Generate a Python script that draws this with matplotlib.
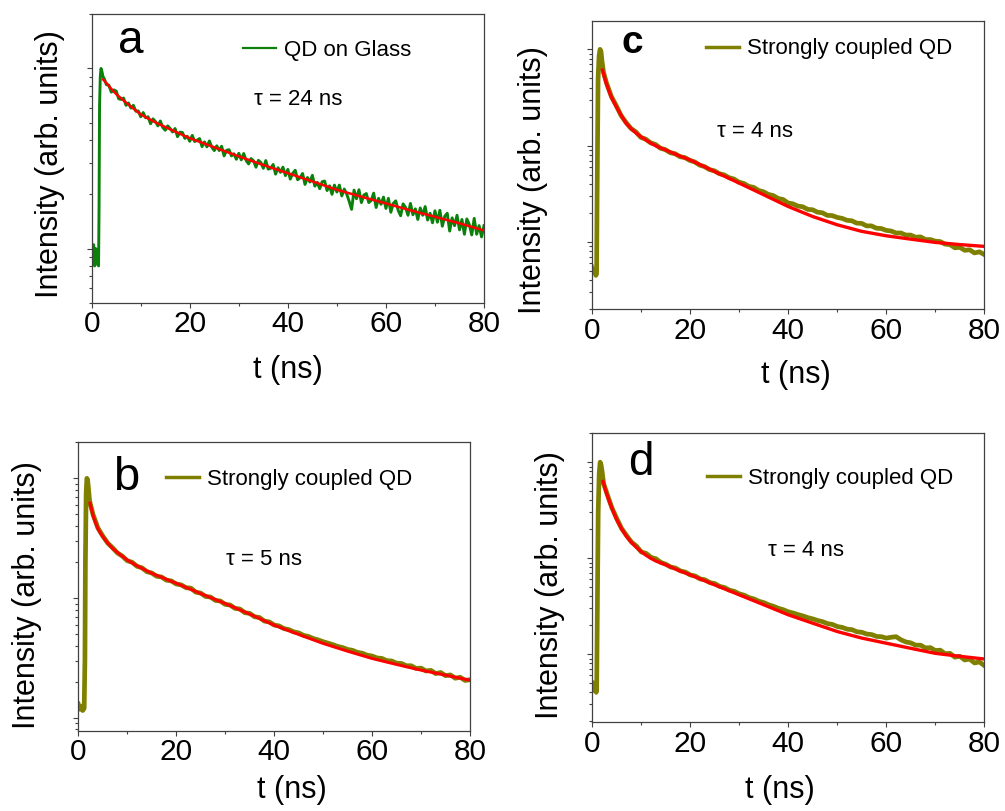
import numpy as np
import matplotlib
matplotlib.use("Agg")
import matplotlib.pyplot as plt
from matplotlib.ticker import LogLocator, NullFormatter, MultipleLocator

plt.rcParams["font.family"] = ["Liberation Sans", "DejaVu Sans"]

# ---------------- data (normalised PL decay, peak = 1) ----------------
# Panel a: QD on glass
a_rise_t = [0, 0.2, 0.4, 0.6, 0.8, 1.0, 1.2, 1.4, 1.5, 1.6, 1.75, 1.9, 2.1, 2.3]
a_rise_I = [0.10, 0.085, 0.105, 0.08, 0.10, 0.082, 0.098, 0.08, 0.17, 0.62, 0.9, 1.0, 0.96, 0.9]
a_decay_t = np.arange(2.5, 80.01, 0.5)
a_decay_I = [
    0.886, 0.813, 0.808, 0.739, 0.760, 0.749, 0.679, 0.673, 0.685, 0.624, 0.643, 0.603, 0.624, 0.579, 0.581,
    0.539, 0.569, 0.532, 0.539, 0.493, 0.525, 0.507, 0.480, 0.511, 0.470, 0.454, 0.480, 0.464, 0.444, 0.464,
    0.418, 0.443, 0.441, 0.409, 0.420,
    0.394, 0.425, 0.393, 0.400, 0.408, 0.368, 0.391, 0.367, 0.396, 0.365, 0.350, 0.372, 0.350, 0.370, 0.327,
    0.351, 0.354, 0.327, 0.336, 0.313,
    0.338, 0.311, 0.337, 0.308, 0.295, 0.316, 0.307, 0.283, 0.309, 0.300, 0.279, 0.308, 0.276, 0.279, 0.293,
    0.259, 0.281, 0.265, 0.283, 0.254,
    0.275, 0.243, 0.262, 0.272, 0.241, 0.247, 0.261, 0.227, 0.248, 0.234, 0.255, 0.222, 0.233, 0.215, 0.235,
    0.237, 0.210, 0.223, 0.200, 0.225,
    0.206, 0.225, 0.196, 0.214, 0.201, 0.183, 0.165, 0.211, 0.189, 0.212, 0.180, 0.198, 0.202, 0.180, 0.185,
    0.203, 0.169, 0.190, 0.176, 0.193,
    0.167, 0.190, 0.159, 0.178, 0.184, 0.163, 0.152, 0.177, 0.169, 0.153, 0.178, 0.154, 0.166, 0.145, 0.168,
    0.153, 0.171, 0.144, 0.157, 0.139,
    0.162, 0.140, 0.163, 0.133, 0.151, 0.157, 0.125, 0.148, 0.134, 0.153, 0.127, 0.145, 0.120, 0.146, 0.136,
    0.119, 0.147, 0.120, 0.134, 0.116,
    0.134,
]
a_fit_t = [2.3, 3, 4, 5, 7.5, 10, 12.5, 15, 17.5, 20, 25, 30, 35, 40, 45, 50, 55, 60, 65, 70, 75, 80]
a_fit_I = [0.87, 0.83, 0.77, 0.72, 0.63, 0.556, 0.51, 0.473, 0.44, 0.41, 0.365, 0.325, 0.291,
           0.262, 0.236, 0.212, 0.194, 0.178, 0.163, 0.150, 0.138, 0.126]

# Panel b: strongly coupled QD
b_rise_t = [0, 0.3, 0.6, 0.9, 1.2, 1.35, 1.45, 1.6, 1.75, 1.9, 2.1, 2.3]
b_rise_I = [0.013, 0.0118, 0.0125, 0.0115, 0.012, 0.03, 0.2, 0.75, 1.0, 0.97, 0.8, 0.65]
b_decay_t = np.arange(3, 80.01, 1.0)
b_decay_I = [
    0.50, 0.385, 0.33, 0.288, 0.263, 0.238, 0.224,
    0.205, 0.199, 0.184, 0.179, 0.166, 0.162, 0.152, 0.150, 0.141, 0.139,
    0.131, 0.129, 0.122, 0.121, 0.112, 0.110, 0.103, 0.102, 0.0955, 0.0945,
    0.0885, 0.0875, 0.082, 0.081, 0.0755, 0.0745, 0.0698, 0.0688, 0.0642, 0.0632,
    0.0595, 0.0585, 0.0556, 0.0545, 0.0522, 0.0512, 0.0488, 0.0478, 0.0459, 0.0447,
    0.0432, 0.042, 0.0408, 0.0394, 0.0386, 0.0372, 0.0366, 0.0352, 0.0346, 0.0333,
    0.0328, 0.0316, 0.0313, 0.0300, 0.0298, 0.0286, 0.0284, 0.0272, 0.0272, 0.0258,
    0.0260, 0.0246, 0.0249, 0.0234, 0.0239, 0.0225, 0.0228, 0.0214, 0.0218, 0.0205,
    0.0208,
]
b_fit_t = [2.4, 3, 3.5, 4, 4.5, 5, 6, 7, 8, 10, 12, 15, 20, 25, 30, 35, 40, 45, 50, 55, 60, 65, 70, 75, 80]
b_fit_I = [0.62, 0.49, 0.427, 0.38, 0.35, 0.326, 0.288, 0.26, 0.24, 0.208, 0.186, 0.161, 0.133, 0.109,
           0.090, 0.0735, 0.0594, 0.0497, 0.0418, 0.036, 0.0313, 0.0279, 0.025, 0.0227, 0.0206]

# Panel c: strongly coupled QD
c_rise_t = [0, 0.3, 0.6, 0.85, 1.0, 1.1, 1.3, 1.5, 1.7, 1.9, 2.1, 2.4]
c_rise_I = [0.0055, 0.0048, 0.0052, 0.0045, 0.0047, 0.03, 0.5, 0.85, 1.0, 0.95, 0.75, 0.58]
c_decay_t = np.arange(3, 80.01, 1.0)
c_decay_I = [
    0.45, 0.325, 0.26, 0.205, 0.174, 0.151, 0.139,
    0.122, 0.117, 0.107, 0.103, 0.094, 0.091, 0.0845, 0.0825, 0.0768, 0.0752,
    0.0702, 0.0678, 0.0628, 0.0606, 0.0565, 0.0548, 0.0512, 0.0497, 0.0465, 0.0450,
    0.0418, 0.0405, 0.0378, 0.0369, 0.0343, 0.0332, 0.0312, 0.0303, 0.0283, 0.0276,
    0.0254, 0.0249, 0.0236, 0.0232, 0.0218, 0.0216, 0.0204, 0.0201, 0.0189, 0.0188,
    0.0180, 0.0176, 0.0168, 0.0166, 0.0157, 0.0156, 0.0147, 0.0147, 0.0139, 0.0138,
    0.0132, 0.0130, 0.0124, 0.0124, 0.0118, 0.0118, 0.0112, 0.0113, 0.0106, 0.0106,
    0.0102, 0.0101, 0.0095, 0.0094, 0.0087, 0.0088, 0.0082, 0.0083, 0.0077, 0.0079,
    0.0074,
]
c_fit_t = [2.2, 2.6, 3, 3.5, 4, 4.5, 5, 6, 7, 8, 9, 10, 11, 12, 13, 14, 15, 17.5, 20, 25, 30, 35,
           40, 45, 50, 55, 60, 65, 70, 75, 80]
c_fit_I = [0.61, 0.513, 0.44, 0.372, 0.32, 0.284, 0.255, 0.2065, 0.171, 0.151, 0.136, 0.124, 0.115,
           0.1067, 0.100, 0.095, 0.0905, 0.0798, 0.0713, 0.054, 0.041, 0.031, 0.0234, 0.0184, 0.0151,
           0.0129, 0.0116, 0.0107, 0.0099, 0.0094, 0.0090]

# Panel d: strongly coupled QD
d_rise_t = [0, 0.3, 0.6, 0.8, 0.9, 1.0, 1.2, 1.4, 1.6, 1.8, 2.0, 2.3]
d_rise_I = [0.0050, 0.0042, 0.0047, 0.0040, 0.0045, 0.02, 0.3, 0.75, 1.0, 0.93, 0.8, 0.6]
d_decay_t = np.arange(3, 80.01, 1.0)
d_decay_I = [
    0.47, 0.335, 0.258, 0.203, 0.172, 0.147, 0.134,
    0.116, 0.112, 0.102, 0.0985, 0.0902, 0.0865, 0.0808, 0.0788, 0.0736, 0.0716,
    0.0668, 0.0652, 0.0608, 0.0595, 0.0556, 0.0543, 0.0508, 0.0494, 0.0464, 0.0451,
    0.0425, 0.0411, 0.0388, 0.0376, 0.0356, 0.0344, 0.0327, 0.0315, 0.0300, 0.0290,
    0.0276, 0.0268, 0.0258, 0.0250, 0.0240, 0.0233, 0.0224, 0.0218, 0.0208, 0.0204,
    0.0194, 0.0190, 0.0182, 0.0180, 0.0171, 0.0169, 0.0162, 0.0160, 0.0153, 0.0152,
    0.0147, 0.0150, 0.0152, 0.0141, 0.0134, 0.0131, 0.0124, 0.0124, 0.0116, 0.0117,
    0.0109, 0.0110, 0.0101, 0.0102, 0.0093, 0.0095, 0.0087, 0.0089, 0.0081, 0.0083,
    0.0076,
]
d_fit_t = [2.2, 2.6, 3, 3.5, 4, 4.5, 5, 6, 7, 8, 9, 10, 11, 12, 13, 15, 17.5, 20, 25, 30, 35, 40,
           45, 50, 55, 60, 65, 70, 75, 80]
d_fit_I = [0.63, 0.533, 0.457, 0.386, 0.332, 0.2865, 0.251, 0.2014, 0.168, 0.146, 0.1294, 0.117,
           0.107, 0.0993, 0.0933, 0.0853, 0.075, 0.067, 0.0527, 0.0415, 0.0327, 0.0257, 0.021,
           0.0172, 0.0147, 0.013, 0.0115, 0.0102, 0.0095, 0.0089]

panel_letters = ["a", "b", "c", "d"]
series_labels = ["QD on Glass", "Strongly coupled QD", "Strongly coupled QD", "Strongly coupled QD"]
lifetimes_ns = [24, 5, 4, 4]
x_ticks = [0, 20, 40, 60, 80]

# ---------------- layout ----------------
W, H = 1005, 811
fig = plt.figure(figsize=(W / 100, H / 100), dpi=100)

GREEN = "#0b800b"
OLIVE = "#808000"
RED = "#ff0000"
SPINE = "#404040"


def make_axes(left, right, top, bottom):
    return fig.add_axes([left / W, 1 - bottom / H, (right - left) / W, (bottom - top) / H])


panels = [
    dict(box=(91.7, 484.0, 14.3, 302.7), ylim=(0.05, 2.0), color=GREEN, lw=2.1, fit_lw=1.8, leg_lw=1.6,
         rise=(a_rise_t, a_rise_I), decay=(a_decay_t, a_decay_I), fit=(a_fit_t, a_fit_I),
         leg=(0.385, 0.876), tau=(0.527, 0.703), letter=(0.066, 0.866, 33, "normal"),
         ylab=(-0.106, 0.48), xlab=(0.5, -0.233)),
    dict(box=(78.3, 470.0, 442.3, 730.7), ylim=(0.0078, 2.0), color=OLIVE, lw=3.4, fit_lw=2.2, leg_lw=2.5,
         rise=(b_rise_t, b_rise_I), decay=(b_decay_t, b_decay_I), fit=(b_fit_t, b_fit_I),
         leg=(0.223, 0.871), tau=(0.475, 0.595), letter=(0.0886, 0.835, 34, "normal"),
         ylab=(-0.131, 0.47), xlab=(0.546, -0.206)),
    dict(box=(591.7, 984.3, 21.0, 309.3), ylim=(0.002, 1.97), color=OLIVE, lw=3.4, fit_lw=2.4, leg_lw=2.5,
         rise=(c_rise_t, c_rise_I), decay=(c_decay_t, c_decay_I), fit=(c_fit_t, c_fit_I),
         leg=(0.291, 0.903), tau=(0.416, 0.618), letter=(0.0764, 0.888, 28, "bold"),
         ylab=(-0.1495, 0.45), xlab=(0.52, -0.228)),
    dict(box=(592.3, 984.3, 433.3, 722.3), ylim=(0.00195, 2.0), color=OLIVE, lw=3.4, fit_lw=2.4, leg_lw=2.5,
         rise=(d_rise_t, d_rise_I), decay=(d_decay_t, d_decay_I), fit=(d_fit_t, d_fit_I),
         leg=(0.293, 0.844), tau=(0.545, 0.596), letter=(0.091, 0.856, 33, "normal"),
         ylab=(-0.108, 0.475), xlab=(0.479, -0.234)),
]

for p, letter, label, tau in zip(panels, panel_letters, series_labels, lifetimes_ns):
    ax = make_axes(*p["box"])
    t = np.concatenate([p["rise"][0], p["decay"][0]])
    y = np.concatenate([p["rise"][1], p["decay"][1]])
    ax.plot(t, y, color=p["color"], lw=p["lw"], label=label, zorder=2)
    ax.plot(p["fit"][0], p["fit"][1], color=RED, lw=p["fit_lw"], zorder=3)

    ax.set_yscale("log")
    ax.set_xlim(0, 80)
    ax.set_ylim(*p["ylim"])
    ax.set_xticks(x_ticks)
    ax.xaxis.set_minor_locator(MultipleLocator(10))
    ax.yaxis.set_major_locator(LogLocator(base=10, numticks=10))
    ax.yaxis.set_minor_locator(LogLocator(base=10, subs=np.arange(2, 10), numticks=20))
    ax.yaxis.set_major_formatter(NullFormatter())
    ax.yaxis.set_minor_formatter(NullFormatter())

    ax.tick_params(axis="both", which="major", direction="out", length=3.5, width=0.8,
                   color=SPINE, labelsize=21.5, pad=2)
    ax.tick_params(axis="both", which="minor", direction="out", length=2.2, width=0.8, color=SPINE)
    ax.tick_params(top=False, right=False, which="both")
    for s in ax.spines.values():
        s.set_color(SPINE)
        s.set_linewidth(0.9)

    ax.set_xlabel("t (ns)", fontsize=22)
    ax.xaxis.label.set_va("center")
    ax.xaxis.set_label_coords(*p["xlab"])
    ax.set_ylabel("Intensity (arb. units)", fontsize=22)
    ax.yaxis.label.set(va="center", rotation_mode="anchor")
    ax.yaxis.set_label_coords(*p["ylab"])

    leg = ax.legend(loc="center left", bbox_to_anchor=p["leg"], frameon=False, fontsize=16,
                    handlelength=1.5, handletextpad=0.36, borderpad=0, borderaxespad=0)
    for handle in leg.get_lines():
        handle.set_linewidth(p["leg_lw"])

    ax.text(p["tau"][0], p["tau"][1], f"τ = {tau} ns", transform=ax.transAxes,
            ha="center", va="center", fontsize=16)
    lx, ly, lsize, lweight = p["letter"]
    ax.text(lx, ly, letter, transform=ax.transAxes, ha="left", va="baseline",
            fontsize=lsize, fontweight=lweight)

fig.savefig("out.png", dpi=100)
